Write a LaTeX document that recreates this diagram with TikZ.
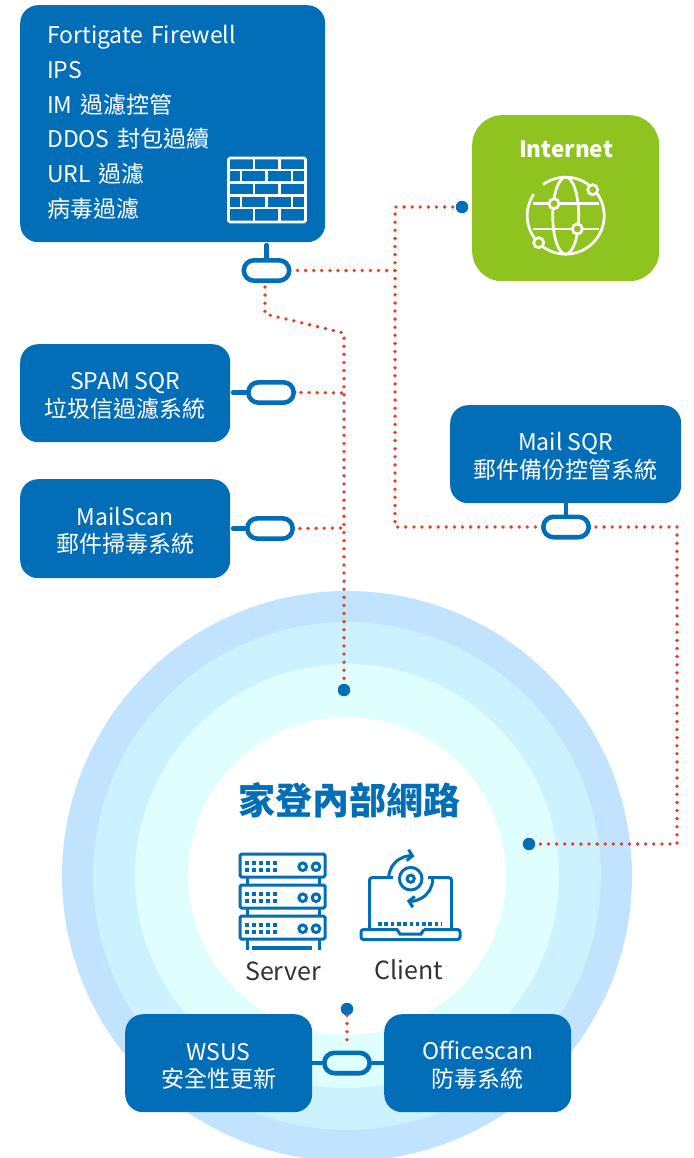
\documentclass[tikz,border=0pt]{standalone}
\usepackage{fontspec}
\setmainfont{Noto Sans CJK TC}
\usetikzlibrary{arrows.meta,calc}
\definecolor{dgblue}{HTML}{036EB8}
\definecolor{dggreen}{HTML}{8FC31F}
\definecolor{dgred}{HTML}{E04428}
\definecolor{ringa}{HTML}{C2E3FD}
\definecolor{ringb}{HTML}{CCF1FF}
\definecolor{ringc}{HTML}{DFFFFF}
\definecolor{inktext}{HTML}{333333}
\newcommand\padtop{\rule{0pt}{23pt}}
\tikzset{
  bluebox/.style={fill=dgblue,rounded corners=18pt,inner sep=0pt,text=white,align=center,font=\fontsize{23}{27.5}\selectfont},
  pill/.style={draw=dgblue,line width=4.6pt,rounded corners=10.2pt,minimum width=45.4pt,minimum height=20.4pt,inner sep=0pt},
  stem/.style={draw=dgblue,line width=4.4pt,line cap=round},
  dots/.style={draw=dgred,line width=3.8pt,line cap=round,dash pattern=on 0pt off 8.1pt},
  enddot/.style={circle,fill=dgblue,minimum size=12.5pt,inner sep=0pt},
  icon/.style={draw=dgblue,line width=3pt},
  iconw/.style={draw=white,line width=2.7pt},
  caption/.style={text=inktext,font=\fontsize{25}{30}\selectfont,inner sep=0pt}
}
\begin{document}
\begin{tikzpicture}[x=1pt,y=-1pt]
\useasboundingbox (0,0) rectangle (693,1158);
\begin{scope}
\clip (0,0) rectangle (693,1158);
\fill[ringa] (347,876) circle (285);
\fill[ringb] (347,876) circle (254);
\fill[ringc] (347,876) circle (212);
\fill[white] (347,876) circle (159);
\end{scope}

% boxes
\node[bluebox,anchor=north west,minimum width=305pt,minimum height=237pt,text width=251pt,align=left,font=\fontsize{23}{34.7}\selectfont] (fw) at (20,5)
 {Fortigate Firewell\\IPS\\IM 過濾控管\\DDOS 封包過續\\URL 過濾\\病毒過濾\rule[-5pt]{0pt}{5pt}};
\node[fill=dggreen,rounded corners=30pt,anchor=north west,minimum width=187pt,minimum height=166pt,inner sep=0pt] (net) at (472,115) {};
\node[text=white,font=\fontsize{22.5}{28}\selectfont\bfseries,inner sep=0pt] (nettext) at (566,149) {Internet};
\node[bluebox,anchor=north west,minimum width=210pt,minimum height=98pt] (spam) at (20,344) {\padtop SPAM SQR\\垃圾信過濾系統};
\node[bluebox,anchor=north west,minimum width=210pt,minimum height=99pt] (scan) at (20,479) {\padtop MailScan\\郵件掃毒系統};
\node[bluebox,anchor=north west,minimum width=231pt,minimum height=98pt] (sqr) at (450,405) {\padtop Mail SQR\\郵件備份控管系統};
\node[bluebox,anchor=north west,minimum width=187pt,minimum height=98pt] (wsus) at (125,1014) {\padtop WSUS\\安全性更新};
\node[bluebox,anchor=north west,minimum width=187pt,minimum height=98pt] (off) at (384,1014) {\padtop Officescan\\防毒系統};

% title and captions
\node[text=dgblue,font=\fontsize{37}{44}\selectfont\bfseries,inner sep=0pt] (title) at (349,800) {家登內部網路};
\node[caption] (srv) at (283,971) {Server};
\node[caption] (cli) at (408.5,970) {Client};

% pills
\node[pill] (p1) at (266.5,270.5) {};
\node[pill] (p2) at (271,392.5) {};
\node[pill] (p3) at (270,528.5) {};
\node[pill] (p4) at (566,527) {};
\node[pill] (p5) at (347,1063) {};

% stems
\draw[stem] (p1.north) -- ++(0,-13);
\draw[stem] (p2.west) -- ++(-13,0);
\draw[stem] (p3.west) -- ++(-12,0);
\draw[stem] (p4.north) -- (p4.north|-sqr.south);
\draw[stem,line cap=butt] (p5.west) -- (wsus.east|-p5);
\draw[stem,line cap=butt] (p5.east) -- (off.west|-p5);

% end dots
\node[enddot] (d1) at (462,207) {};
\node[enddot] (d2) at (344,690) {};
\node[enddot] (d3) at (529,844) {};
\node[enddot] (d4) at (347,1009) {};

% junction coordinates
\coordinate (j1) at (395,270.5);
\coordinate (j2) at (395,207);
\coordinate (j3) at (395,527);
\coordinate (j4) at (265,287);
\coordinate (j5) at (265,314);
\coordinate (j6) at (344,333);
\coordinate (j7) at (677,527);
\coordinate (j8) at (677,844);
\coordinate (j9) at (344,393);
\coordinate (j10) at (344,528);

% dotted connectors
\draw[dots] ($(p1.east)+(6,0)$) -- (j1) -- (j2) -- (d1);
\draw[dots] (j1) -- (j3) -- ($(p4.west)+(-3,0)$);
\draw[dots] ($(p4.east)+(5,0)$) -- (j7) -- (j8) -- (d3);
\draw[dots] (j4) -- (j5) -- (j6) -- (d2);
\draw[dots] ($(p2.east)+(5,0)$) -- (j9);
\draw[dots] ($(p3.east)+(5,0)$) -- (j10);
\draw[dots] (d4) -- ($(p5.north)+(0,-4)$);

% firewall icon
\begin{scope}[draw=white,line width=2.6pt]
\draw[rounded corners=1.5pt] (228.5,158) rectangle (305.5,222);
\foreach \y in {170,182.7,195.4,208.1} \draw (228.5,\y) -- (305.5,\y);
\foreach \x in {254,279.5} {\draw (\x,158) -- (\x,170); \draw (\x,182.7) -- (\x,195.4); \draw (\x,208.1) -- (\x,222);}
\foreach \x in {241,266.7,292} {\draw (\x,170) -- (\x,182.7); \draw (\x,195.4) -- (\x,208.1);}
\end{scope}

% globe icon
\begin{scope}[shift={(565.7,215.7)}]
\draw[iconw] (-38.5*0.588,-38.5*0.809) arc[start angle=-126,end angle=-44,radius=38.5];
\draw[iconw] (38.5*0.719,-38.5*0.695) arc[start angle=-44,end angle=135,radius=38.5];
\draw[iconw] (-38.5*0.707,38.5*0.707) arc[start angle=135,end angle=214,radius=38.5];
\draw[iconw] (0,0) ellipse (13 and 38.5);
\draw[iconw] (-33,-12) -- (33,-12);
\draw[iconw] (-33,13.3) -- (33,13.3);
\foreach \p in {(27,-26),(-11.7,-12),(11.6,13.3),(-27,27)}
  \draw[iconw,fill=dggreen] \p circle (5);
\end{scope}

% server icon
\foreach \t in {854,885,916}{
 \begin{scope}[shift={(0,\t)}]
 \draw[icon,rounded corners=1.5pt] (240,0) rectangle (325,23);
 \foreach \x in {246.7,253.7,260.7,267.7,274.7} \foreach \y in {8.7,16}
   \fill[dgblue] (\x-1.9,\y-1.9) rectangle (\x+1.9,\y+1.9);
 \draw[icon] (302.7,12.7) circle (3.8);
 \draw[icon] (316,12.7) circle (3.8);
 \end{scope}}
\foreach \x in {247,319}{
 \draw[icon] (\x,877) -- (\x,885);
 \draw[icon] (\x,908) -- (\x,916);
 \draw[icon] (\x,939) -- (\x,950);}
\fill[dgblue] (252,946) rectangle (312,950);

% client icon
\draw[icon,rounded corners=2.5pt] (393,877.7) -- (369.5,877.7) -- (369.5,929);
\draw[icon,rounded corners=2.5pt] (428,877.7) -- (451.5,877.7) -- (451.5,929);
\draw[icon,rounded corners=2.5pt] (398,929.5) -- (361,929.5) -- (361,939.5) -- (460,939.5) -- (460,929.5) -- (424,929.5);
\draw[icon] (397,929.5) -- (400,934) -- (421,934) -- (424,929.5);
\draw[draw=dgblue,line width=3.6pt,dash pattern=on 3.6pt off 2.7pt] (378,924) -- (442,924);
\draw[icon] (410.7,878.7) circle (11.3);
\draw[icon] (410.7,878.7) circle (3.6);
\draw[icon,-{Straight Barb[length=5pt,width=11pt]}] (388.7,878) arc[start angle=180,end angle=280,radius=22];
\draw[icon,-{Straight Barb[length=5pt,width=11pt]}] (432.7,879) arc[start angle=0,end angle=100,radius=22];
\end{tikzpicture}
\end{document}
